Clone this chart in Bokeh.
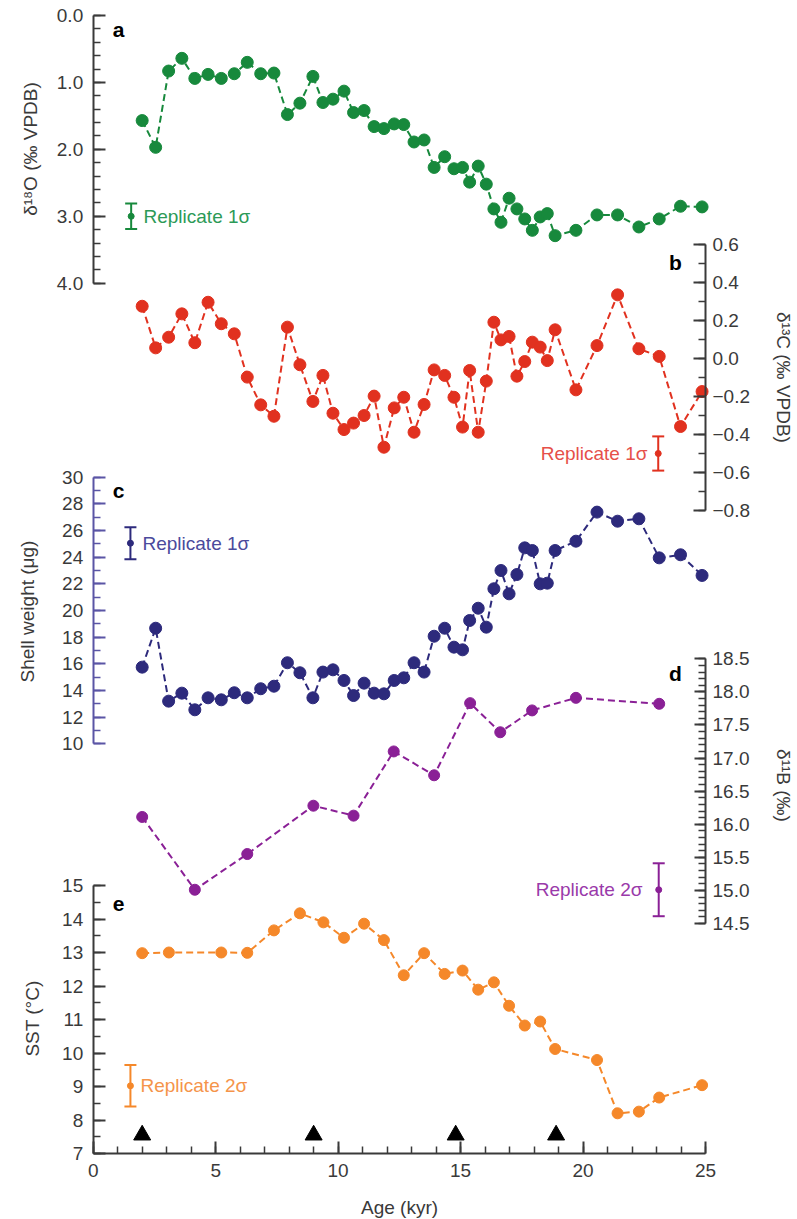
import numpy as np
from bokeh.plotting import figure
from bokeh.models import (Range1d, LinearAxis, FixedTicker, PrintfTickFormatter,
                          CustomJSTickFormatter, Label, Whisker, TeeHead, ColumnDataSource)
from bokeh.embed import file_html
from bokeh.resources import INLINE

# ---------------- data ----------------
# sample ages shared by the d18O, d13C and shell-weight records (kyr)
age_abc = [2.0, 2.55, 3.08, 3.62, 4.15, 4.69, 5.23, 5.76, 6.29, 6.84, 7.38, 7.93,
           8.44, 8.97, 9.38, 9.79, 10.24, 10.63, 11.06, 11.47, 11.87, 12.29, 12.68,
           13.10, 13.51, 13.92, 14.35, 14.73, 15.08, 15.37, 15.72, 16.05, 16.36,
           16.65, 16.98, 17.30, 17.62, 17.93, 18.25, 18.54, 18.86, 19.71, 20.57,
           21.41, 22.28, 23.11, 23.98, 24.86]

d18o = [1.57, 1.97, 0.83, 0.64, 0.94, 0.88, 0.94, 0.87, 0.70, 0.87, 0.86, 1.48,
        1.31, 0.91, 1.30, 1.25, 1.13, 1.45, 1.42, 1.66, 1.69, 1.62, 1.63, 1.89,
        1.86, 2.27, 2.11, 2.29, 2.27, 2.49, 2.25, 2.52, 2.89, 3.09, 2.73, 2.89,
        3.04, 3.21, 3.01, 2.96, 3.29, 3.21, 2.98, 2.98, 3.16, 3.04, 2.85, 2.86]

d13c = [0.275, 0.056, 0.112, 0.235, 0.083, 0.296, 0.183, 0.130, -0.098, -0.244,
        -0.304, 0.165, -0.033, -0.226, -0.089, -0.288, -0.374, -0.340, -0.300,
        -0.198, -0.467, -0.260, -0.204, -0.388, -0.242, -0.060, -0.089, -0.204,
        -0.361, -0.063, -0.388, -0.119, 0.191, 0.098, 0.116, -0.093, -0.016,
        0.086, 0.060, -0.011, 0.151, -0.165, 0.068, 0.335, 0.051, 0.011, -0.358,
        -0.174]

shell_wt = [15.75, 18.67, 13.2, 13.8, 12.55, 13.45, 13.3, 13.83, 13.45, 14.13,
            14.32, 16.08, 15.33, 13.45, 15.38, 15.55, 14.75, 13.62, 14.55, 13.8,
            13.75, 14.75, 14.95, 16.08, 15.38, 18.07, 18.67, 17.25, 17.05, 19.25,
            20.17, 18.75, 21.63, 23.0, 21.25, 22.7, 24.7, 24.5, 22.0, 22.05, 24.5,
            25.2, 27.38, 26.7, 26.88, 23.95, 24.18, 22.63]

age_b11 = [2.0, 4.15, 6.29, 8.99, 10.63, 12.27, 13.92, 15.39, 16.62, 17.92, 19.71, 23.11]
d11b = [16.11, 15.01, 15.55, 16.28, 16.13, 17.10, 16.74, 17.83, 17.39, 17.72, 17.91, 17.82]

age_sst = [2.0, 3.09, 5.23, 6.29, 7.38, 8.44, 9.40, 10.24, 11.06, 11.87, 12.68,
           13.51, 14.35, 15.08, 15.72, 16.36, 16.98, 17.62, 18.25, 18.86, 20.57,
           21.41, 22.28, 23.11, 24.86]
sst = [12.98, 13.0, 13.0, 12.99, 13.66, 14.17, 13.90, 13.44, 13.86, 13.37, 12.32,
       12.98, 12.36, 12.46, 11.89, 12.11, 11.41, 10.82, 10.94, 10.12, 9.79, 8.20,
       8.25, 8.67, 9.04]

# age-model tie points, drawn along the base of the SST panel
tie_age = [2.0, 9.0, 14.8, 18.9]
tie_level = [7.55, 7.55, 7.55, 7.55]

# replicate uncertainty markers: age, value, half-length
rep_d18o = (1.55, 3.0, 0.19)
rep_d13c = (23.07, -0.50, 0.09)
rep_wt = (1.52, 25.05, 1.2)
rep_d11b = (23.09, 15.01, 0.40)
rep_sst = (1.52, 9.02, 0.62)

# tick labels
ticks_age = [0, 5, 10, 15, 20, 25]
ticks_d18o = [0.0, 1.0, 2.0, 3.0, 4.0]
ticks_d13c = [-0.8, -0.6, -0.4, -0.2, 0.0, 0.2, 0.4, 0.6]
ticks_wt = [10, 12, 14, 16, 18, 20, 22, 24, 26, 28, 30]
ticks_d11b = [14.5, 15.0, 15.5, 16.0, 16.5, 17.0, 17.5, 18.0, 18.5]
ticks_sst = [7, 8, 9, 10, 11, 12, 13, 14, 15]

# ---------------- layout ----------------
# The plotting frame fills the whole canvas; each panel is placed by giving
# its own y range, and every axis is pinned at the x = 0 / x = 25 edges.
W, H = 797, 1219
X0_PX, X25_PX = 92.7, 705.0
FONT = "Liberation Sans"
INK = "#3a3a3a"

GREEN, RED, NAVY, PURPLE, ORANGE = "#17893c", "#e1311f", "#2d2a7c", "#8a2096", "#f5882a"
GREEN_T, RED_T, NAVY_T, PURPLE_T, ORANGE_T = "#2c9a57", "#e6504a", "#4b4a9c", "#9a3aaa", "#f5944a"

# vertical placement of each panel: (value at top, pixel, value at bottom, pixel)
BANDS = {
    "a": (0.0, 15.0, 4.0, 282.7),
    "b": (0.6, 244.0, -0.8, 510.0),
    "c": (30.0, 476.7, 10.0, 743.3),
    "d": (18.5, 658.3, 14.5, 923.0),
    "default": (15.0, 885.0, 7.0, 1153.0),
}


def band_value(name, px):
    v0, p0, v1, p1 = BANDS[name]
    return v0 + (px - p0) * (v1 - v0) / (p1 - p0)


def band_range(name):
    return Range1d(start=band_value(name, H), end=band_value(name, 0))


def px_x(px):
    return (px - X0_PX) * 25.0 / (X25_PX - X0_PX)


p = figure(width=W, height=H, x_range=Range1d(px_x(0), px_x(W)), y_range=band_range("default"),
           x_axis_location=None, y_axis_location=None, toolbar_location=None,
           output_backend="svg", min_border=0, title=None)
p.extra_y_ranges = {k: band_range(k) for k in ("a", "b", "c", "d")}
p.grid.visible = False
p.outline_line_color = None
p.background_fill_color = "white"
p.border_fill_color = "white"


def style_axis(ax, line_color, major_len, minor_len, standoff):
    ax.axis_line_color = line_color
    ax.axis_line_width = 2
    ax.major_tick_line_color = line_color
    ax.minor_tick_line_color = line_color
    ax.major_tick_line_width = 2
    ax.minor_tick_line_width = 1.5
    ax.major_tick_in = major_len
    ax.major_tick_out = 0
    ax.minor_tick_in = minor_len
    ax.minor_tick_out = 0
    ax.major_label_text_font = FONT
    ax.major_label_text_font_size = "19px"
    ax.major_label_text_color = INK
    ax.major_label_standoff = standoff


def add_y_axis(name, side, ticks, minor_step, formatter, line_color=INK, major_len=12, minor_len=7):
    lo, hi = min(ticks), max(ticks)
    minor = [round(v, 3) for v in np.arange(lo, hi + 1e-9, minor_step)]
    ax = LinearAxis(y_range_name=name, fixed_location=(0 if side == "left" else 25),
                    bounds=(lo, hi), ticker=FixedTicker(ticks=ticks, minor_ticks=minor),
                    formatter=formatter)
    style_axis(ax, line_color, major_len, minor_len, 10 if side == "left" else 7)
    p.add_layout(ax, side)


add_y_axis("a", "left", ticks_d18o, 0.2, PrintfTickFormatter(format="%.1f"))
add_y_axis("b", "right", ticks_d13c, 0.1,
           CustomJSTickFormatter(code="return (tick < -1e-9 ? '\u2212' : '') + Math.abs(tick).toFixed(1);"))
add_y_axis("c", "left", ticks_wt, 1, PrintfTickFormatter(format="%d"), line_color="#5a55a5")
add_y_axis("d", "right", ticks_d11b, 0.1, PrintfTickFormatter(format="%.1f"), major_len=11, minor_len=7)
add_y_axis("default", "left", ticks_sst, 0.5, PrintfTickFormatter(format="%d"))

xax = LinearAxis(fixed_location=7, bounds=(0, 25),
                 ticker=FixedTicker(ticks=ticks_age, minor_ticks=list(range(0, 26))),
                 formatter=PrintfTickFormatter(format="%d"))
style_axis(xax, INK, 12, 7, 10)
p.add_layout(xax, "below")


# ---------------- series ----------------
def series(x, y, name, color, size):
    kw = {} if name == "default" else {"y_range_name": name}
    p.line(x, y, line_color=color, line_width=2, line_dash="7 4", **kw)
    p.scatter(x, y, size=size, fill_color=color, line_color=color, **kw)


series(age_abc, d18o, "a", GREEN, 12)
series(age_abc, d13c, "b", RED, 12)
series(age_abc, shell_wt, "c", NAVY, 12)
series(age_b11, d11b, "d", PURPLE, 11)
series(age_sst, sst, "default", ORANGE, 11)

p.scatter(tie_age, tie_level, marker="triangle", size=17, fill_color="black", line_color="black")


# ---------------- replicate markers ----------------
def replicate(rep, name, color, text_color, text, text_px, text_align):
    age, val, err = rep
    src = ColumnDataSource(dict(base=[age], lower=[val - err], upper=[val + err]))
    p.add_layout(Whisker(base="base", lower="lower", upper="upper", source=src,
                         dimension="height", y_range_name=name, line_color=color, line_width=2,
                         upper_head=TeeHead(size=12, line_color=color, line_width=2),
                         lower_head=TeeHead(size=12, line_color=color, line_width=2)))
    kw = {} if name == "default" else {"y_range_name": name}
    p.scatter([age], [val], size=6, fill_color=color, line_color=color, **kw)
    p.add_layout(Label(x=px_x(text_px), y=val, y_range_name=name, text=text,
                       text_font=FONT, text_font_size="19px", text_color=text_color,
                       text_align=text_align, text_baseline="middle"))


replicate(rep_d18o, "a", GREEN, GREEN_T, "Replicate 1\u03c3", 143, "left")
replicate(rep_d13c, "b", RED, RED_T, "Replicate 1\u03c3", 647, "right")
replicate(rep_wt, "c", NAVY, NAVY_T, "Replicate 1\u03c3", 142, "left")
replicate(rep_d11b, "d", PURPLE, PURPLE_T, "Replicate 2\u03c3", 642, "right")
replicate(rep_sst, "default", ORANGE, ORANGE_T, "Replicate 2\u03c3", 140, "left")

# ---------------- axis titles and panel letters ----------------
titles = [
    ("a", "\u03b4\u00b9\u2078O (\u2030 VPDB)", 30, 148.5, np.pi / 2),
    ("b", "\u03b4\u00b9\u00b3C (\u2030 VPDB)", 783, 377, -np.pi / 2),
    ("c", "Shell weight (\u03bcg)", 27, 611, np.pi / 2),
    ("d", "\u03b4\u00b9\u00b9B (\u2030)", 783, 785, -np.pi / 2),
    ("default", "SST (\u00b0C)", 32, 1018, np.pi / 2),
    ("default", "Age (kyr)", 399, 1207, 0.0),
]
for name, text, x_px, y_px, ang in titles:
    p.add_layout(Label(x=px_x(x_px), y=band_value(name, y_px), y_range_name=name, text=text,
                       angle=ang, text_font=FONT, text_font_size="19px", text_color=INK,
                       text_align="center", text_baseline="middle"))

letters = [("a", "a", 118, 29), ("b", "b", 675, 262), ("c", "c", 118, 490),
           ("d", "d", 675, 673), ("default", "e", 118, 903)]
for name, text, x_px, y_px in letters:
    p.add_layout(Label(x=px_x(x_px), y=band_value(name, y_px), y_range_name=name, text=text,
                       text_font=FONT, text_font_size="21px", text_font_style="bold",
                       text_color="black", text_align="center", text_baseline="alphabetic"))

open("out.html", "w").write(file_html(p, INLINE))
